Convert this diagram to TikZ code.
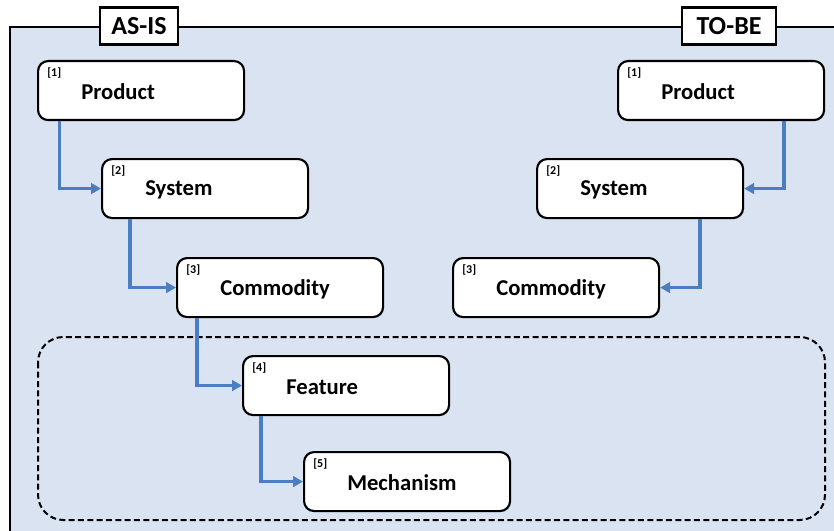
\documentclass[tikz,border=0pt]{standalone}
\usepackage{fontspec}
\setmainfont{Carlito}
\usetikzlibrary{arrows.meta,positioning}
\definecolor{panelblue}{HTML}{DAE3F1}
\definecolor{linkblue}{HTML}{4A7EC0}
\tikzset{
  px/.style={x=0.75pt,y=-0.75pt},
  level/.style={draw=black,line width=1.6pt,fill=white,rounded corners=7.5pt,
    minimum width=154.5pt,minimum height=44.25pt,inner sep=0pt,anchor=north west},
  levelname/.style={font=\bfseries\fontsize{17}{20}\selectfont,anchor=west,inner sep=0pt},
  levelnum/.style={font=\bfseries\fontsize{9}{10}\selectfont,anchor=west,inner sep=0pt},
  tag/.style={draw=black,line width=1.6pt,fill=white,minimum height=27.75pt,
    inner sep=0pt,font=\bfseries\fontsize{19.5}{22}\selectfont},
  link/.style={draw=linkblue,line width=2.6pt,
    -{Triangle[length=7.5pt,width=8pt]}},
  scopebox/.style={draw=black,line width=1.5pt,dash pattern=on 4.5pt off 2.5pt,
    rounded corners=19pt}
}
% a level box with its number and name
\newcommand{\levelbox}[4]{%
  \node[level] (#1) at (#2) {};
  \node[levelnum] (#1num) at ([xshift=7.5pt,yshift=-9.75pt]#1.north west) {[#3]};
  \node[levelname] (#1name) at ([xshift=33pt,yshift=-24pt]#1.north west) {#4};
}
\begin{document}
\begin{tikzpicture}[px]
\useasboundingbox (0,0) rectangle (834,531);
\clip (0,0) rectangle (834,531);
% panel
\fill[panelblue] (10,27) rectangle (850,545);
\draw[line width=1.6pt] (850,27) -- (10,27) -- (10,545);
% tags
\node[tag,minimum width=58.5pt] (asis) at (139,26) {AS-IS};
\node[tag,minimum width=70.5pt] (tobe) at (729,26) {TO-BE};
% scope of the lower levels
\draw[scopebox] (38,337) rectangle (825,520);
% AS-IS chain
\levelbox{aprod}{37,60}{1}{Product}
\levelbox{asys}{101,158}{2}{System}
\levelbox{acom}{176,257}{3}{Commodity}
\levelbox{afeat}{242,355}{4}{Feature}
\levelbox{amech}{303,451}{5}{Mechanism}
% TO-BE chain
\levelbox{tprod}{617,60}{1}{Product}
\levelbox{tsys}{536,158}{2}{System}
\levelbox{tcom}{452,257}{3}{Commodity}
% connectors
\draw[link] ([xshift=17pt]aprod.south west) |- (asys.west);
\draw[link] ([xshift=21.75pt]asys.south west) |- (acom.west);
\draw[link] ([xshift=15.75pt]acom.south west) |- (afeat.west);
\draw[link] ([xshift=14.25pt]afeat.south west) |- (amech.west);
\draw[link] ([xshift=-30.75pt]tprod.south east) |- (tsys.east);
\draw[link] ([xshift=-33pt]tsys.south east) |- (tcom.east);
\end{tikzpicture}
\end{document}
